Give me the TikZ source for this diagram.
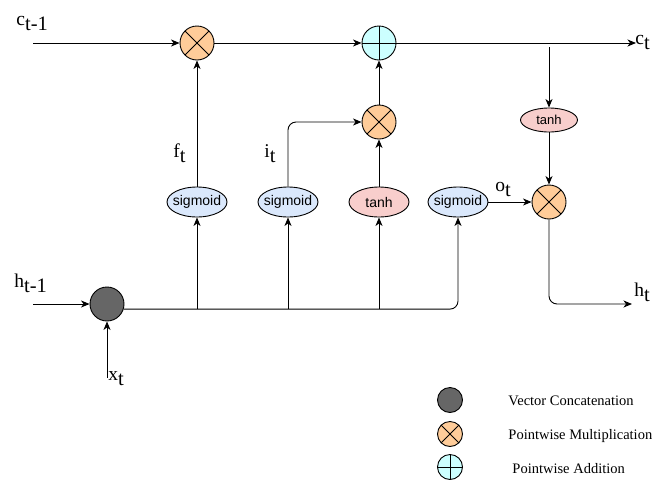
\documentclass[tikz,border=0pt]{standalone}
\usepackage{fontspec}
\setmainfont{Liberation Serif}
\setsansfont{Liberation Sans}
\usetikzlibrary{arrows.meta,positioning,shapes.geometric,calc}
\definecolor{multfill}{HTML}{FFCC99}
\definecolor{addfill}{HTML}{CCFFFF}
\definecolor{sigfill}{HTML}{DAE8FC}
\definecolor{tanhfill}{HTML}{F8CECC}
\definecolor{catfill}{HTML}{666666}
\newcommand\gatelbl[2]{#1\raisebox{-5pt}{\fontsize{20.5}{20}\selectfont #2}}
\begin{document}
\begin{tikzpicture}[x=1pt, y=-1pt,
line width=0.9pt,
arrow/.style={-{Stealth[length=8.5pt,width=7pt,inset=2.5pt]}},
op/.style={circle, draw, minimum size=34pt, inner sep=0pt},
mult/.style={op, fill=multfill, path picture={
  \draw ($(path picture bounding box.center)!0.7071!(path picture bounding box.north east)$) -- ($(path picture bounding box.center)!0.7071!(path picture bounding box.south west)$)
        ($(path picture bounding box.center)!0.7071!(path picture bounding box.north west)$) -- ($(path picture bounding box.center)!0.7071!(path picture bounding box.south east)$);}},
add/.style={op, fill=addfill, path picture={
  \draw (path picture bounding box.north) -- (path picture bounding box.south)
        (path picture bounding box.west) -- (path picture bounding box.east);}},
concat/.style={op, fill=catfill},
act/.style={ellipse, draw, minimum width=60pt, minimum height=30pt, inner xsep=-3pt, inner ysep=0pt, font=\sffamily\fontsize{14}{14}\selectfont},
sig/.style={act, fill=sigfill},
tnh/.style={act, fill=tanhfill},
lbl/.style={anchor=base west, inner sep=0pt, font=\fontsize{19.5}{20}\selectfont},
key/.style={anchor=west, inner sep=0pt, font=\fontsize{14.5}{16}\selectfont}
]
\useasboundingbox (0,0) rectangle (656,480);

% cell state
\node[mult] (fgate) at (197,43) {};
\node[add] (sum) at (379,43) {};
\node[mult] (igate) at (379,122) {};
\node[tnh, font=\sffamily\fontsize{13}{13}\selectfont, minimum width=57pt, minimum height=24pt] (th) at (549,120) {tanh};
\node[mult] (ogate) at (549,202) {};

% gates
\node[sig] (sf) at (197,202) {sigmoid};
\node[sig] (si) at (288,202) {sigmoid};
\node[tnh] (tc) at (379,202) {tanh};
\node[sig] (so) at (458,202) {sigmoid};
\node[concat] (cat) at (107,304) {};

\coordinate (cin) at (33,43);
\coordinate (cout) at (636,43);
\coordinate (ctap) at (549,47);
\coordinate (hin) at (33,304);
\coordinate (xin) at (107,378);
\coordinate (hout) at (632,304);

\draw[arrow] (cin) -- (fgate);
\draw[arrow] (fgate) -- (sum);
\draw[arrow] (sum) -- (cout);
\draw[arrow] (ctap) -- (th);
\draw[arrow] (th) -- (ogate);
\draw[arrow] (so) -- (ogate);
\draw[arrow, rounded corners=8pt] (ogate) |- (hout);

\draw[arrow] (sf) -- (fgate);
\draw[arrow, rounded corners=8pt] (si) |- (igate);
\draw[arrow] (tc) -- (igate);
\draw[arrow] (igate) -- (sum);

\draw[arrow] (hin) -- (cat);
\draw[arrow] (xin) -- (cat);
\draw[arrow, rounded corners=8pt] (cat.-17) -| (so);
\draw[arrow] (sf |- cat.-17) -- (sf);
\draw[arrow] (si |- cat.-17) -- (si);
\draw[arrow] (tc |- cat.-17) -- (tc);

% labels
\node[lbl] at (16,25) {\gatelbl{c}{t-1}};
\node[lbl] at (635,44) {\gatelbl{c}{t}};
\node[lbl] at (14,287) {\gatelbl{h}{t-1}};
\node[lbl] at (634,296) {\gatelbl{h}{t}};
\node[lbl] at (108,380) {\gatelbl{x}{t}};
\node[lbl] at (173,157) {\gatelbl{f}{t}};
\node[lbl] at (264,157) {\gatelbl{i}{t}};
\node[lbl] at (495,191) {\gatelbl{o}{t}};

% legend
\node[concat, minimum size=25pt] (keycat) at (450,400) {};
\node[mult, minimum size=25pt] (keymult) at (450,434) {};
\node[add, minimum size=25pt] (keyadd) at (450,467) {};
\node[key] at (508,401) {Vector Concatenation};
\node[key] at (508,436) {Pointwise Multiplication};
\node[key] at (512,469) {Pointwise Addition};
\end{tikzpicture}
\end{document}
